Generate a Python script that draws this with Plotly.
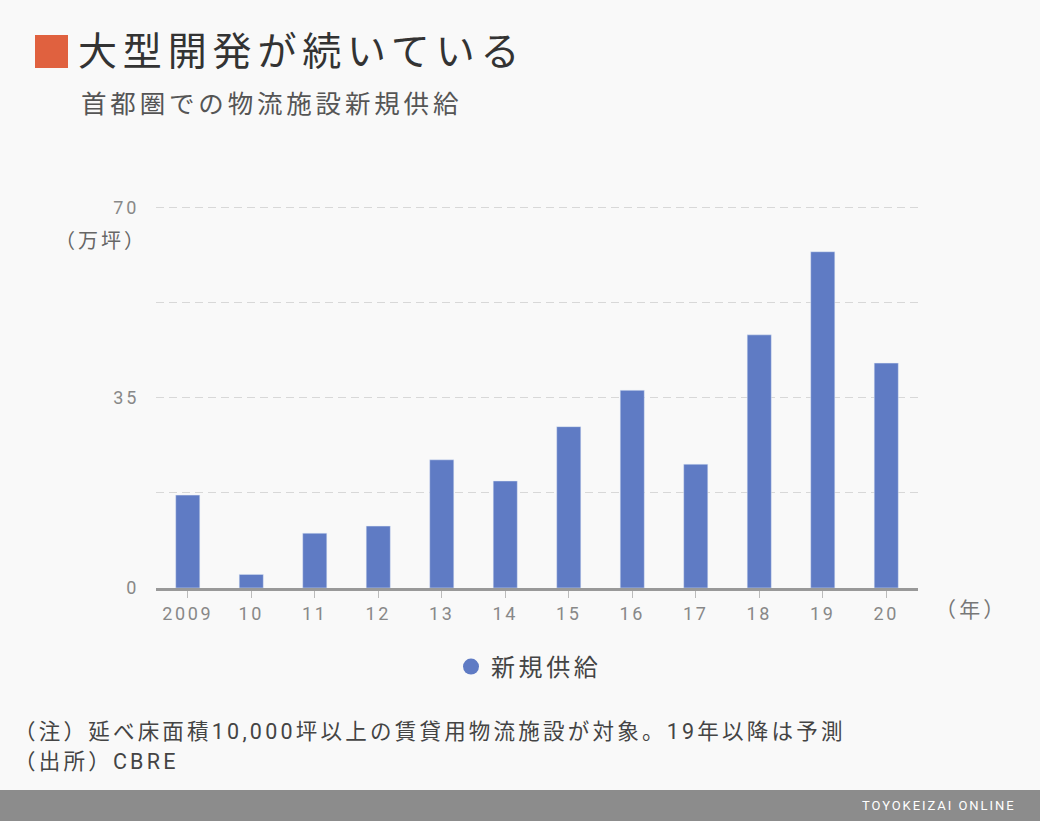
import plotly.graph_objects as go

years = ["2009", "10", "11", "12", "13", "14", "15", "16", "17", "18", "19", "20"]
supply = [17.1, 2.5, 10.1, 11.4, 23.6, 19.7, 29.7, 36.4, 22.8, 46.6, 61.9, 41.4]
series_name = "新規供給"
y_tickvals = [0, 17.5, 35, 52.5, 70]
y_ticktext = ["0", "", "35", "", "70"]

title = "大型開発が続いている"
subtitle = "首都圏での物流施設新規供給"
note1 = "（注）延べ床面積10,000坪以上の賃貸用物流施設が対象。19年以降は予測"
note2 = "（出所）CBRE"
unit_y = "（万坪）"
unit_x = "（年）"
brand = "TOYOKEIZAI ONLINE"

W, H = 1040, 821
L, R, T, B = 156, 122, 205, 233
PW, PH = W - L - R, H - T - B

def px(x):
    return (x - L) / PW

def py(y):
    return (H - B - y) / PH

FONT = "Roboto, 'Noto Sans CJK JP', sans-serif"
BAR_COLOR = "#5f7bc4"

fig = go.Figure()
fig.add_trace(go.Bar(x=years, y=supply, marker_color=BAR_COLOR, width=0.38,
                     showlegend=False, name=series_name))
fig.add_trace(go.Scatter(x=[years[0]], y=[None], mode="markers", name=series_name,
                         marker=dict(symbol="circle", size=20, color=BAR_COLOR),
                         showlegend=True))

fig.update_layout(
    width=W, height=H,
    margin=dict(l=L, r=R, t=T, b=B, autoexpand=False),
    paper_bgcolor="#f9f9f9", plot_bgcolor="#f9f9f9",
    font=dict(family=FONT, color="#555"),
    legend=dict(orientation="h", x=px(451), xanchor="left", y=py(667), yanchor="middle",
                font=dict(size=24, color="#444", family=FONT), itemsizing="trace",
                entrywidth=200, entrywidthmode="pixels",
                bgcolor="rgba(0,0,0,0)"),
    xaxis=dict(type="category", range=[-0.5, 11.5], showgrid=False,
               showline=True, linecolor="#999", linewidth=3,
               ticks="outside", ticklen=7, tickcolor="#bbb", tickwidth=1,
               tickfont=dict(size=18, color="#888", family=FONT), fixedrange=True),
    yaxis=dict(range=[0, 70.5], tickvals=y_tickvals, ticktext=y_ticktext,
               showgrid=True, gridcolor="#d8d8d8", griddash="8px,5px", gridwidth=1,
               zeroline=False, showline=False, ticks="", ticklabelstandoff=16,
               tickfont=dict(size=18, color="#888", family=FONT), fixedrange=True),
    showlegend=True,
    hovermode=False,
)

shapes = [
    dict(type="rect", xref="paper", yref="paper", x0=px(35), x1=px(68), y0=py(68), y1=py(35),
         fillcolor="#e0613f", line=dict(width=0), layer="above"),
    dict(type="rect", xref="paper", yref="paper", x0=px(-10), x1=px(W + 10), y0=py(H + 10), y1=py(790),
         fillcolor="#8c8c8c", line=dict(width=0), layer="above"),
]
fig.update_layout(shapes=shapes)

anns = [
    dict(text=title, x=px(76), y=py(52), font=dict(size=39, color="#333", family=FONT)),
    dict(text=subtitle, x=px(79), y=py(104), font=dict(size=25.5, color="#555", family=FONT)),
    dict(text=unit_y, x=px(53), y=py(241), font=dict(size=20, color="#666", family=FONT)),
    dict(text=unit_x, x=px(933), y=py(610), font=dict(size=21, color="#777", family=FONT)),
    dict(text=note1, x=px(12), y=py(731), font=dict(size=21.5, color="#444", family=FONT)),
    dict(text=note2, x=px(12), y=py(761), font=dict(size=21.5, color="#444", family=FONT)),
    dict(text=brand, x=px(860), y=py(805), font=dict(size=13, color="#ffffff", family=FONT)),
]
for a in anns:
    a.update(xref="paper", yref="paper", showarrow=False, xanchor="left", yanchor="middle",
             align="left")
fig.update_layout(annotations=anns)

post = """
document.body.style.margin = '0';
document.body.style.background = '#f9f9f9';
var st = document.createElement('style');
st.textContent = '.main-svg text { letter-spacing: 0.15em; }';
document.head.appendChild(st);
document.querySelectorAll('.legend .scrollbox').forEach(function(e){ e.removeAttribute('clip-path'); });
"""
fig.write_html("out.html", post_script=post, config={"displayModeBar": False})
